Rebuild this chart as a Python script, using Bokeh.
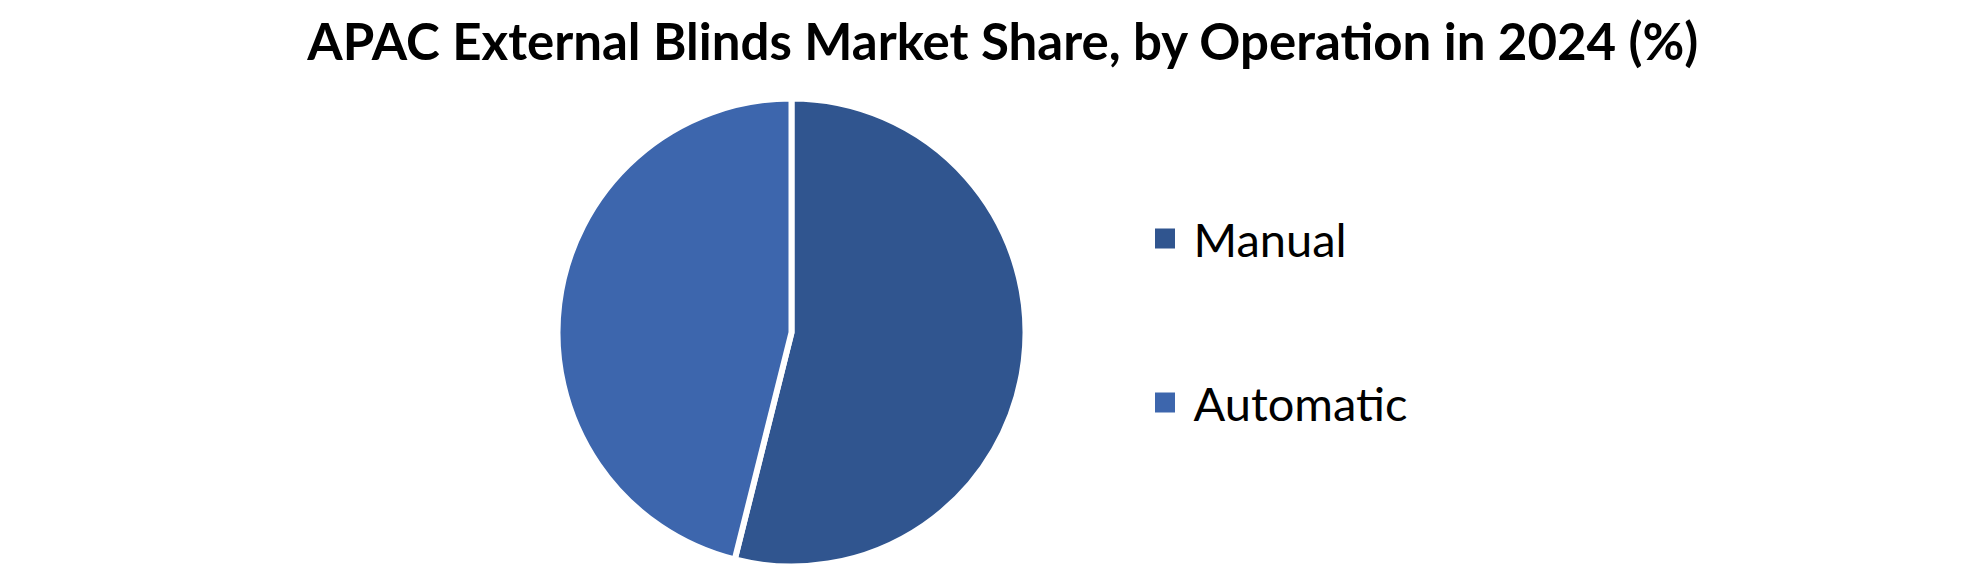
import numpy as np
from bokeh.plotting import figure
from bokeh.models import ColumnDataSource, Range1d
from bokeh.core.properties import value
from bokeh.embed import file_html
from bokeh.resources import INLINE

title_text = "APAC External Blinds Market Share, by Operation in 2024 (%)"
categories = ["Manual", "Automatic"]
shares = [53.9, 46.1]
colors = ["#30558F", "#3D66AD"]

W, H = 1964, 569
p = figure(width=W, height=H, output_backend="svg", toolbar_location=None,
           x_range=Range1d(0, W), y_range=Range1d(0, H), min_border=0)
p.axis.visible = False
p.grid.visible = False
p.outline_line_color = None
p.background_fill_color = "white"
p.border_fill_color = "white"

# pie
fr = np.array(shares) / sum(shares)
ends = np.cumsum(fr) * 2 * np.pi
starts = ends - fr * 2 * np.pi
cx, cy, r = 791, 237, 234
src = ColumnDataSource(dict(start=np.pi / 2 - starts, end=np.pi / 2 - ends,
                            color=colors, cat=categories))
p.wedge(x=cx, y=cy, radius=r, start_angle="start", end_angle="end",
        direction="clock", fill_color="color", line_color="white",
        line_width=6, source=src)

# title
p.text(x=[1003], y=[529], text=[title_text], text_align="center",
       text_baseline="alphabetic", text_font=value("Lato"),
       text_font_style="bold", text_font_size="51px", text_color="black")

# legend
ly = [331, 167]
p.scatter(x=[1164.5] * 2, y=ly, marker="square", size=20,
          fill_color=colors, line_color=None)
p.text(x=[1193] * 2, y=ly, text=categories,
       text_align="left", text_baseline="alphabetic",
       text_font=value("Lato"), text_font_size="47px", text_color="black")

open("out.html", "w").write(file_html(p, INLINE))
